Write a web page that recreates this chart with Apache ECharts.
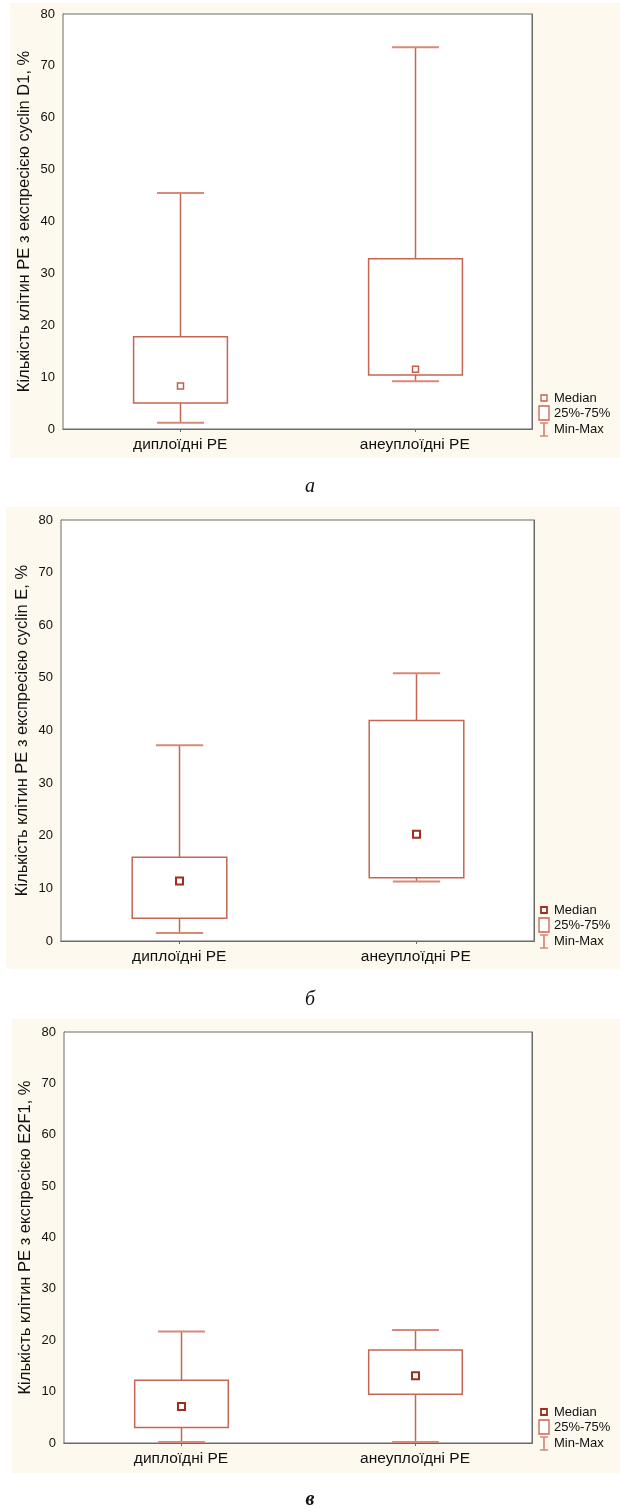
<!DOCTYPE html>
<html>
<head>
<meta charset="utf-8">
<script src="https://cdn.jsdelivr.net/npm/echarts@6/dist/echarts.min.js"></script>
<style>
html,body{margin:0;padding:0;background:#fff;}
#chart{width:620px;height:1512px;}
</style>
</head>
<body>
<div id="chart"></div>
<script>
// ---- data ----
const categories = ['диплоїдні PE', 'анеуплоїдні PE'];
const yMin = 0, yMax = 80, yInterval = 10;
const axisNames = [
  'Кількість клітин PE з експресією cyclin D1, %',
  'Кількість клітин PE з експресією cyclin E, %',
  'Кількість клітин PE з експресією E2F1, %'
];
const captions = ['а', 'б', 'в'];
const legendLabels = ['Median', '25%-75%', 'Min-Max'];
// [min, q1, median, q3, max] per category
const cyclinD1 = [[1.2, 5.0, 8.3, 17.8, 45.5], [9.2, 10.4, 11.5, 32.8, 73.6]];
const cyclinE  = [[1.5, 4.3, 11.4, 15.9, 37.2], [11.3, 12.0, 20.3, 41.9, 50.9]];
const e2f1     = [[0.2, 3.0, 7.1, 12.2, 21.7], [0.2, 9.5, 13.1, 18.1, 22.0]];
const panelData = [cyclinD1, cyclinE, e2f1];

// ---- layout ----
const grids = [
  {left: 63, top: 14, width: 469, height: 415},
  {left: 61, top: 520, width: 473, height: 421},
  {left: 64, top: 1032, width: 468, height: 411}
];
const creams = [
  {x: 10, y: 3, w: 610, h: 455},
  {x: 6, y: 507, w: 614, h: 462},
  {x: 12, y: 1019, w: 608, h: 454}
];
const captionY = [487, 1000, 1500];
const boxColor = '#c56652';
const capColor = '#d68a77';
const medianColors = ['#c0604c', '#9e2f1e', '#9e2f1e'];
const textColor = '#111111';
const font = "'Liberation Sans', Arial, sans-serif";

function makeRender(medColor, medWidth, medSize) {
  return function (params, api) {
    const x = api.value(0);
    const pMin = api.coord([x, api.value(1)]);
    const pQ1 = api.coord([x, api.value(2)]);
    const pMed = api.coord([x, api.value(3)]);
    const pQ3 = api.coord([x, api.value(4)]);
    const pMax = api.coord([x, api.value(5)]);
    const band = api.size([1, 0])[0];
    const bw = band * 0.4, cw = band * 0.2;
    const cx = Math.round(pMed[0]) + 0.5;
    const ls = {stroke: boxColor, lineWidth: 1.5};
    const cs = {stroke: capColor, lineWidth: 2};
    const m = medSize;
    return {
      type: 'group',
      children: [
        {type: 'line', shape: {x1: cx, y1: pMax[1], x2: cx, y2: pQ3[1]}, style: ls},
        {type: 'line', shape: {x1: cx, y1: pQ1[1], x2: cx, y2: pMin[1]}, style: ls},
        {type: 'line', shape: {x1: cx - cw / 2, y1: pMax[1], x2: cx + cw / 2, y2: pMax[1]}, style: cs},
        {type: 'line', shape: {x1: cx - cw / 2, y1: pMin[1], x2: cx + cw / 2, y2: pMin[1]}, style: cs},
        {type: 'rect', shape: {x: cx - bw / 2, y: pQ3[1], width: bw, height: pQ1[1] - pQ3[1]},
          style: {fill: 'rgba(255,255,255,0)', stroke: boxColor, lineWidth: 1.5}},
        {type: 'rect', shape: {x: cx - m / 2, y: pMed[1] - m / 2, width: m, height: m},
          style: {fill: '#fff', stroke: medColor, lineWidth: medWidth}}
      ]
    };
  };
}

const option = {
  backgroundColor: '#ffffff',
  animation: false,
  grid: [], xAxis: [], yAxis: [], series: [], graphic: []
};

grids.forEach((g, i) => {
  option.grid.push({left: g.left, top: g.top, width: g.width, height: g.height,
    show: true, backgroundColor: '#ffffff', borderColor: '#6a6a6a', borderWidth: 1, z: 2});
  // bottom category axis
  option.xAxis.push({
    type: 'category', gridIndex: i, data: categories, position: 'bottom',
    boundaryGap: true,
    axisLine: {show: true, lineStyle: {color: '#5a5a5a', width: 1}},
    axisTick: {show: true, alignWithLabel: true, length: 3, lineStyle: {color: '#5a5a5a'}},
    axisLabel: {margin: 8, fontSize: 15.5, color: textColor, fontFamily: font},
    splitLine: {show: false}
  });
  // top frame axis
  option.xAxis.push({
    type: 'category', gridIndex: i, data: categories, position: 'top',
    boundaryGap: true,
    axisLine: {show: true, lineStyle: {color: '#6a6a6a'}},
    axisTick: {show: true, inside: true, alignWithLabel: true, length: 3, lineStyle: {color: '#6a6a6a'}},
    axisLabel: {show: false}, splitLine: {show: false}
  });
  option.yAxis.push({
    type: 'value', gridIndex: i, min: yMin, max: yMax, interval: yInterval, position: 'left',
    name: axisNames[i], nameLocation: 'middle', nameGap: 30, nameMoveOverlap: false,
    nameTextStyle: {fontSize: 16.5, color: textColor, fontFamily: font},
    axisLine: {show: true, lineStyle: {color: '#5a5a5a'}},
    axisTick: {show: true, inside: true, length: 3, lineStyle: {color: '#6a6a6a'}},
    axisLabel: {margin: 8, fontSize: 13, color: textColor, fontFamily: font},
    splitLine: {show: true, lineStyle: {color: '#e4e4e4', type: 'dotted', width: 1}}
  });
  option.yAxis.push({
    type: 'value', gridIndex: i, min: yMin, max: yMax, interval: yInterval, position: 'right',
    axisLine: {show: true, lineStyle: {color: '#6a6a6a'}},
    axisTick: {show: true, inside: true, length: 3, lineStyle: {color: '#6a6a6a'}},
    axisLabel: {show: false}, splitLine: {show: false}
  });
  option.series.push({
    type: 'custom', name: axisNames[i],
    xAxisIndex: i * 2, yAxisIndex: i * 2,
    renderItem: makeRender(medianColors[i], i === 0 ? 1.5 : 2, i === 0 ? 6 : 7),
    encode: {x: 0, y: [1, 2, 3, 4, 5]},
    data: panelData[i].map((v, k) => [k, ...v]),
    z: 5
  });

  // cream panel background
  const c = creams[i];
  option.graphic.push({type: 'rect', z: -10, silent: true,
    shape: {x: c.x, y: c.y, width: c.w, height: c.h}, style: {fill: '#fdf9ef'}});

  // legend
  const zeroY = g.top + g.height;
  const ly = [zeroY - 31, zeroY - 16, zeroY];
  const lx = 544;
  option.graphic.push({type: 'rect', z: 10, shape: {x: lx - 3, y: ly[0] - 3, width: 6, height: 6},
    style: {fill: '#fff', stroke: medianColors[i], lineWidth: i === 0 ? 1.3 : 1.8}});
  option.graphic.push({type: 'rect', z: 10, shape: {x: lx - 5, y: ly[1] - 7, width: 10, height: 14},
    style: {fill: '#fff', stroke: boxColor, lineWidth: 1.3}});
  option.graphic.push({type: 'line', z: 10, shape: {x1: lx, y1: ly[2] - 6, x2: lx, y2: ly[2] + 7},
    style: {stroke: boxColor, lineWidth: 1.3}});
  option.graphic.push({type: 'line', z: 10, shape: {x1: lx - 4, y1: ly[2] - 6, x2: lx + 4, y2: ly[2] - 6},
    style: {stroke: capColor, lineWidth: 1.5}});
  option.graphic.push({type: 'line', z: 10, shape: {x1: lx - 4, y1: ly[2] + 7, x2: lx + 4, y2: ly[2] + 7},
    style: {stroke: capColor, lineWidth: 1.5}});
  legendLabels.forEach((t, k) => {
    option.graphic.push({type: 'text', z: 10, x: 554, y: ly[k],
      style: {text: t, fontSize: 13, fill: textColor, fontFamily: font, verticalAlign: 'middle', align: 'left'}});
  });

  // caption
  option.graphic.push({type: 'text', z: 10, x: 310, y: captionY[i],
    style: {text: captions[i], fontSize: 20, fontStyle: 'italic', fontWeight: i === 2 ? 'bold' : 'normal',
      fill: '#111', fontFamily: "'Liberation Serif', 'Times New Roman', serif",
      align: 'center', verticalAlign: 'middle'}});
});

const chart = echarts.init(document.getElementById('chart'), null, {renderer: 'canvas'});
chart.setOption(option);
</script>
</body>
</html>
